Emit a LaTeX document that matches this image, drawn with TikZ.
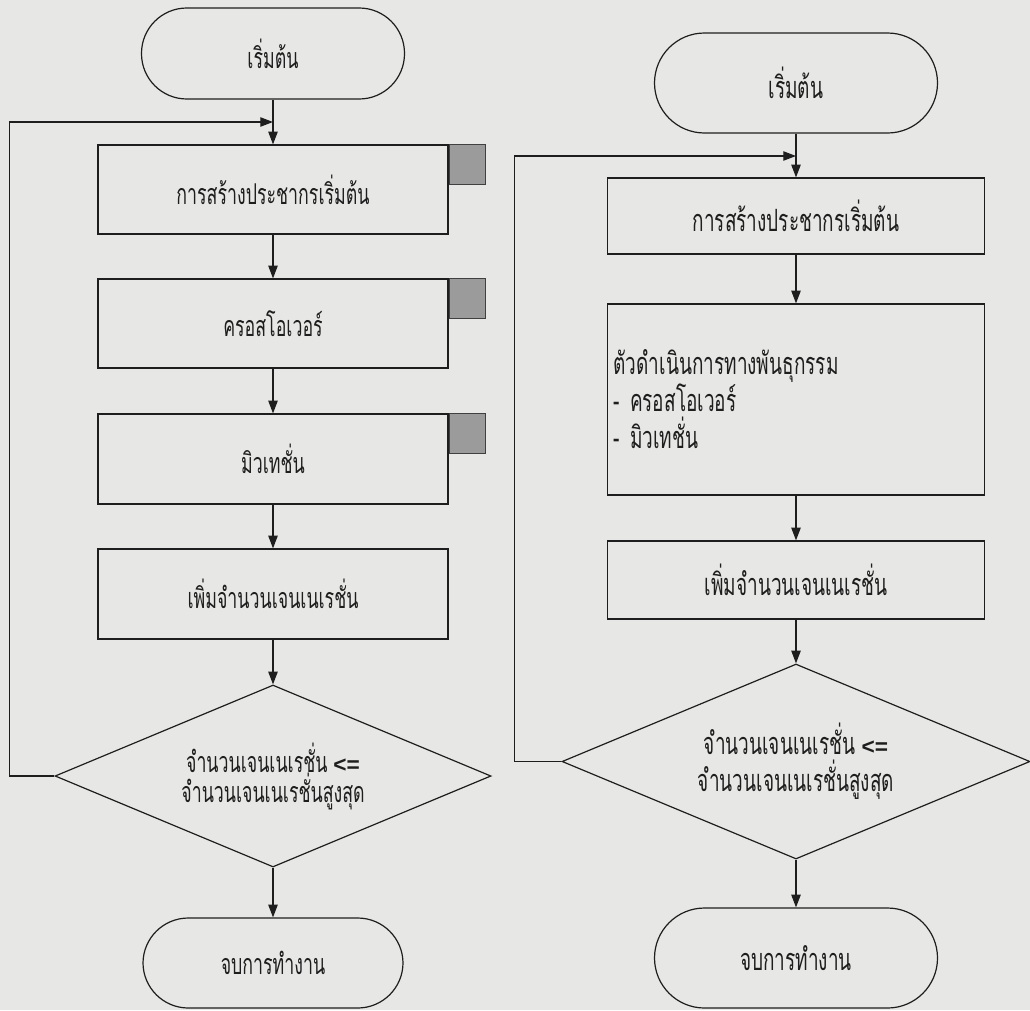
\documentclass[tikz,border=0pt]{standalone}
\usepackage{fontspec}
\setmainfont[Script=Thai, FakeStretch=0.62]{Loma}
\newfontfamily\opfont{Liberation Sans}
\usetikzlibrary{shapes.geometric,arrows.meta}
\definecolor{paper}{RGB}{231,231,229}
\definecolor{ink}{RGB}{30,30,30}
\definecolor{tabfill}{RGB}{155,155,155}
\newcommand{\lesseq}{{\opfont\bfseries\fontsize{17}{17}\selectfont <=}}

\begin{document}
\begin{tikzpicture}[x=0.75pt,y=-0.75pt,
  flow/.style={draw=ink, line width=0.9pt},
  every node/.style={text=ink, inner sep=0pt},
  lfont/.style={font=\fontsize{21.5}{22.5}\selectfont},
  rfont/.style={font=\fontsize{23}{27.75}\selectfont},
  stepbox/.style={flow, rectangle, align=center},
  decide/.style={flow, diamond, aspect=2.4, align=center},
  tabbox/.style={draw=ink!85, line width=0.7pt, fill=tabfill,
                 minimum width=27pt, minimum height=30pt, anchor=north west},
  arr/.style={flow, -{Triangle[length=9.5pt,width=7pt]}}
]
% page
\fill[paper] (0,0) rectangle (1030,1010);
\useasboundingbox (0,0) rectangle (1030,1010);

% ---------------- left flowchart ----------------
\node[stepbox, lfont, rounded corners=34pt, minimum width=197.25pt, minimum height=68.25pt]
  (ls) at (273,53.5) {เริ่มต้น};
\node[stepbox, lfont, minimum width=262.5pt, minimum height=66.75pt]
  (lb1) at (273,189.5) {การสร้างประชากรเริ่มต้น};
\node[stepbox, lfont, minimum width=262.5pt, minimum height=66.75pt]
  (lb2) at (273,323.5) {ครอสโอเวอร์};
\node[stepbox, lfont, minimum width=262.5pt, minimum height=67.5pt]
  (lb3) at (273,459) {มิวเทชั่น};
\node[stepbox, lfont, minimum width=262.5pt, minimum height=67.5pt]
  (lb4) at (273,594) {เพิ่มจำนวนเจนเนเรชั่น};
\node[decide, lfont, minimum width=327pt, minimum height=136.5pt]
  (ld) at (273,776) {จำนวนเจนเนเรชั่น \lesseq\\จำนวนเจนเนเรชั่นสูงสุด};
\node[stepbox, lfont, rounded corners=34pt, minimum width=195pt, minimum height=67.5pt]
  (le) at (273,963) {จบการทำงาน};

\node[tabbox] (lt1) at (lb1.north east) {};
\node[tabbox] (lt2) at (lb2.north east) {};
\node[tabbox] (lt3) at (lb3.north east) {};

\coordinate (lj) at (273,122);
\draw[arr] (ls.south) -- (lb1.north);
\draw[arr] (lb1.south) -- (lb2.north);
\draw[arr] (lb2.south) -- (lb3.north);
\draw[arr] (lb3.south) -- (lb4.north);
\draw[arr] (lb4.south) -- (ld.north);
\draw[arr] (ld.south) -- (le.north);
\draw[arr] (ld.west) -- ++(-45,0) |- (lj);

% ---------------- right flowchart ----------------
\node[stepbox, rfont, rounded corners=37.5pt, minimum width=212.25pt, minimum height=75pt]
  (rs) at (796,83) {เริ่มต้น};
\node[stepbox, rfont, minimum width=282.75pt, minimum height=57pt]
  (rb1) at (796,216) {การสร้างประชากรเริ่มต้น};
\node[stepbox, rfont, align=left, inner xsep=4.5pt, text width=273.75pt, minimum height=143.25pt]
  (rb2) at (796,399.5) {ตัวดำเนินการทางพันธุกรรม\\- ครอสโอเวอร์\\- มิวเทชั่น};
\node[stepbox, rfont, minimum width=282.75pt, minimum height=58.5pt]
  (rb3) at (796,580) {เพิ่มจำนวนเจนเนเรชั่น};
\node[decide, rfont, minimum width=351pt, minimum height=146.25pt]
  (rd) at (796,761.5) {จำนวนเจนเนเรชั่น \lesseq\\จำนวนเจนเนเรชั่นสูงสุด};
\node[stepbox, rfont, rounded corners=37.5pt, minimum width=212.25pt, minimum height=75pt]
  (re) at (796,958) {จบการทำงาน};

\coordinate (rj) at (796,156);
\draw[arr] (rs.south) -- (rb1.north);
\draw[arr] (rb1.south) -- (rb2.north);
\draw[arr] (rb2.south) -- (rb3.north);
\draw[arr] (rb3.south) -- (rd.north);
\draw[arr] (rd.south) -- (re.north);
\draw[arr] (rd.west) -- ++(-47,0) |- (rj);
\end{tikzpicture}
\end{document}
